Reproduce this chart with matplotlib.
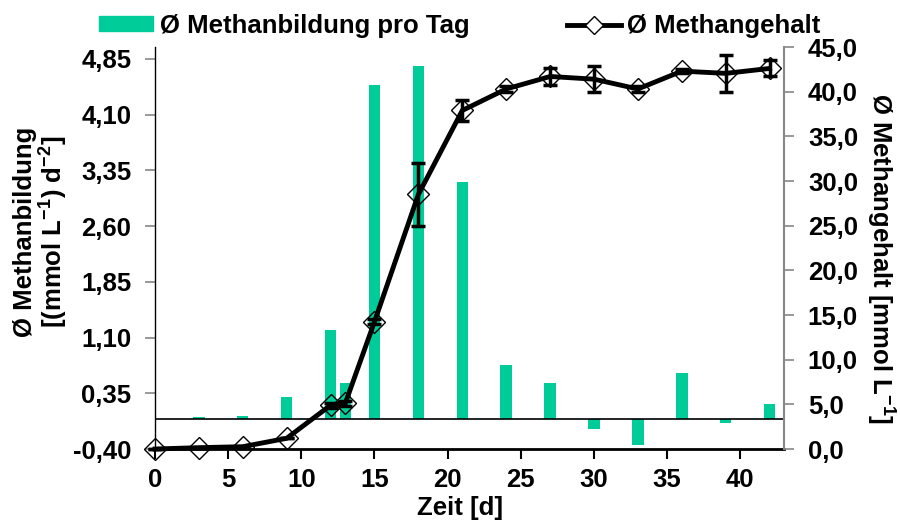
import matplotlib
matplotlib.use("Agg")
import matplotlib.pyplot as plt
from matplotlib.lines import Line2D
from matplotlib.patches import Patch

plt.rcParams['font.family'] = ['Liberation Sans', 'DejaVu Sans']
plt.rcParams['font.weight'] = 'bold'
plt.rcParams['mathtext.fontset'] = 'custom'
plt.rcParams['mathtext.rm'] = 'Liberation Sans:bold'
plt.rcParams['mathtext.bf'] = 'Liberation Sans:bold'
plt.rcParams['mathtext.it'] = 'Liberation Sans:bold'
plt.rcParams['mathtext.default'] = 'bf'

# Data
bar_days = [3, 6, 9, 12, 13, 15, 18, 21, 24, 27, 30, 33, 36, 39, 42]
bar_vals = [0.035, 0.05, 0.30, 1.20, 0.485, 4.50, 4.76, 3.19, 0.73, 0.49,
            -0.13, -0.35, 0.62, -0.05, 0.20]

line_days = [0, 3, 6, 9, 12, 13, 15, 18, 21, 24, 27, 30, 33, 36, 39, 42]
line_vals = [0.0, 0.15, 0.26, 1.2, 4.9, 5.1, 14.25, 28.5, 37.9, 40.3, 41.7,
             41.4, 40.3, 42.3, 42.05, 42.6]
line_err = [0.0, 0.0, 0.0, 0.0, 0.3, 0.3, 0.3, 3.55, 1.15, 0.3, 1.0,
            1.45, 0.3, 0.2, 2.05, 0.9]

left_ticks = [-0.40, 0.35, 1.10, 1.85, 2.60, 3.35, 4.10, 4.85]
right_ticks = [0, 5, 10, 15, 20, 25, 30, 35, 40, 45]
x_ticks = [0, 5, 10, 15, 20, 25, 30, 35, 40]

bar_color = '#00CC99'
grey = '#888888'

fig = plt.figure(figsize=(9, 5.27), dpi=100)
ax = fig.add_axes([0.1722, 0.148, 0.8714 - 0.1722, 0.9108 - 0.148])
ax2 = ax.twinx()

ax.bar(bar_days, bar_vals, width=0.78, color=bar_color, zorder=2)
ax.axhline(0, color='black', lw=1.2, zorder=3)
ax.set_ylim(-0.40, 5.01)
ax.set_xlim(0, 43)
ax.set_yticks(left_ticks)
ax.set_yticklabels([f"{t:.2f}".replace('.', ',') for t in left_ticks])
ax.set_xticks(x_ticks)
ax.set_xticklabels([str(t) for t in x_ticks])

ax2.errorbar(line_days, line_vals, yerr=line_err, color='black', lw=3.5,
             elinewidth=2.5, capsize=5, capthick=2.5, zorder=4, clip_on=False)
ax2.plot(line_days, line_vals, linestyle='none', marker='D', ms=11,
         mfc='none', mec='black', mew=1.0, zorder=5, clip_on=False)
ax2.set_ylim(0, 45)
ax2.set_yticks(right_ticks)
ax2.set_yticklabels([f"{t:.1f}".replace('.', ',') for t in right_ticks])

fs = 18.5
for a in (ax, ax2):
    a.spines['top'].set_visible(False)
ax.spines['left'].set_color('black')
ax.spines['left'].set_linewidth(1.0)
ax.spines['right'].set_visible(False)
ax.spines['bottom'].set_linewidth(2.0)
ax2.spines['left'].set_visible(False)
ax2.spines['bottom'].set_visible(False)
ax2.spines['right'].set_color(grey)
ax2.spines['right'].set_linewidth(1.5)

ax.tick_params(axis='y', direction='out', length=7, width=1.2, color=grey,
               labelsize=fs, pad=10)
ax.tick_params(axis='x', direction='out', length=7, width=1.5, color='black',
               labelsize=fs, pad=7)
ax2.tick_params(axis='y', direction='out', length=7, width=1.2, color=grey,
                labelsize=fs, pad=10)
for lab in ax.get_yticklabels() + ax.get_xticklabels() + ax2.get_yticklabels():
    lab.set_fontweight('bold')

fig.text(0.511, 0.036, 'Zeit [d]', fontsize=fs, fontweight='bold',
         ha='center', va='center')
fig.text(0.046, 0.56, 'Ø Methanbildung\n[(mmol L$^{-1}$) d$^{-2}$]',
         fontsize=fs, fontweight='bold', rotation=90, ha='center',
         va='center', multialignment='center', linespacing=1.05)
fig.text(0.978, 0.51, 'Ø Methangehalt [mmol L$^{-1}$]', fontsize=fs,
         fontweight='bold', rotation=-90, ha='center', va='center')

handles = [Patch(color=bar_color),
           Line2D([0], [0], color='black', lw=3.5, marker='D', ms=9,
                  mfc='white', mec='black', mew=1.0)]
labels = ['Ø Methanbildung pro Tag', 'Ø Methangehalt']
fig.legend(handles, labels, loc='center', bbox_to_anchor=(0.511, 0.951),
           ncol=2, frameon=False, prop={'weight': 'bold', 'size': fs},
           handlelength=2.1, handletextpad=0.25, columnspacing=3.8,
           handleheight=0.5, borderpad=0, borderaxespad=0)

fig.savefig('out.png', dpi=100, facecolor='white')
